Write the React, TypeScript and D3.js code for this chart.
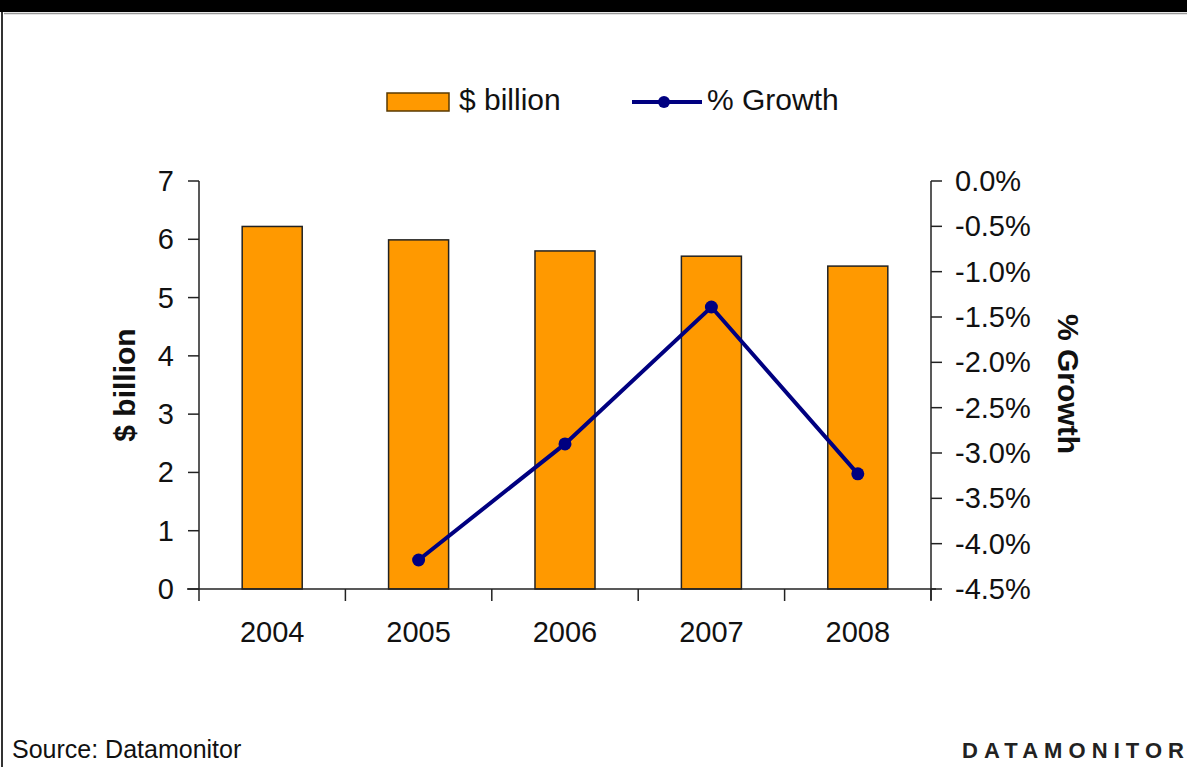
import React from "react";
import * as d3 from "d3";

const years = ["2004", "2005", "2006", "2007", "2008"];
const billions = [6.22, 5.99, 5.8, 5.71, 5.54];
const growthYears = ["2005", "2006", "2007", "2008"];
const growth = [-4.18, -2.9, -1.39, -3.23];
const leftTicks = [0, 1, 2, 3, 4, 5, 6, 7];
const rightTicks = [0, -0.5, -1, -1.5, -2, -2.5, -3, -3.5, -4, -4.5];

const W = 1187;
const H = 767;
const x0 = 199;
const x1 = 931;
const yTop = 181;
const yBot = 589;
const FONT = "'Liberation Sans', Arial, sans-serif";

const fmtPct = (t: number) => d3.format(".1f")(t).replace("\u2212", "-") + "%";

export default function App() {
  const x = d3.scaleBand<string>().domain(years).range([x0, x1]).paddingInner(0.59).paddingOuter(0.295);
  const xc = (y: string) => (x(y) as number) + x.bandwidth() / 2;
  const yL = d3.scaleLinear().domain([0, 7]).range([yBot, yTop]);
  const yR = d3.scaleLinear().domain([-4.5, 0]).range([yBot, yTop]);
  const line = d3
    .line<number>()
    .x((_, i) => xc(growthYears[i]))
    .y((d) => yR(d));
  const step = (x1 - x0) / years.length;
  const boundaries = d3.range(years.length + 1).map((i) => x0 + i * step);
  const axisColor = "#222";
  const tickFs = 29;
  return (
    <svg width={W} height={H} style={{ position: "absolute", left: 0, top: 0, background: "#fff" }} fontFamily={FONT}>
      <rect x={0} y={0} width={W} height={12} fill="#000" />
      <line x1={4} x2={W} y1={13.5} y2={13.5} stroke="#999" strokeWidth={1.5} />
      <line x1={2} x2={2} y1={12} y2={H} stroke="#333" strokeWidth={2} />

      {/* legend */}
      <rect x={387} y={93} width={62} height={18} fill="#FF9900" stroke="#5a3a00" strokeWidth={1.5} />
      <text x={459} y={110} fontSize={30} fill="#111">$ billion</text>
      <line x1={632} x2={702} y1={102} y2={102} stroke="#000080" strokeWidth={4} />
      <circle cx={664} cy={102} r={6} fill="#000080" />
      <text x={707} y={110} fontSize={30} fill="#111">% Growth</text>

      {/* bars */}
      {years.map((yr, i) => (
        <rect
          key={yr}
          x={x(yr)}
          y={yL(billions[i])}
          width={x.bandwidth()}
          height={yBot - yL(billions[i])}
          fill="#FF9900"
          stroke="#222"
          strokeWidth={1.5}
        />
      ))}

      {/* left axis */}
      <line x1={x0} x2={x0} y1={yTop} y2={yBot} stroke={axisColor} strokeWidth={1.5} />
      {leftTicks.map((t) => (
        <g key={t}>
          <line x1={x0 - 11} x2={x0} y1={yL(t)} y2={yL(t)} stroke={axisColor} strokeWidth={1.5} />
          <text x={174} y={yL(t) + 10} fontSize={tickFs} textAnchor="end" fill="#111">{t}</text>
        </g>
      ))}

      {/* right axis */}
      <line x1={x1} x2={x1} y1={yTop} y2={yBot + 11} stroke={axisColor} strokeWidth={1.5} />
      {rightTicks.map((t) => (
        <g key={t}>
          <line x1={x1} x2={x1 + 11} y1={yR(t)} y2={yR(t)} stroke={axisColor} strokeWidth={1.5} />
          <text x={955} y={yR(t) + 10} fontSize={tickFs} fill="#111">{fmtPct(t)}</text>
        </g>
      ))}

      {/* x axis */}
      <line x1={x0 - 12} x2={x1 + 5} y1={yBot} y2={yBot} stroke={axisColor} strokeWidth={1.5} />
      {boundaries.map((b, i) => (
        <line key={i} x1={b} x2={b} y1={yBot} y2={yBot + 12} stroke={axisColor} strokeWidth={1.5} />
      ))}
      {years.map((yr) => (
        <text key={yr} x={xc(yr)} y={642} fontSize={tickFs} textAnchor="middle" fill="#111">{yr}</text>
      ))}

      {/* growth line */}
      <path d={line(growth) || ""} fill="none" stroke="#000080" strokeWidth={4} />
      {growth.map((g, i) => (
        <circle key={i} cx={xc(growthYears[i])} cy={yR(g)} r={6.5} fill="#000080" />
      ))}

      {/* axis titles */}
      <text transform={`translate(135,${385}) rotate(-90)`} fontSize={30} fontWeight="bold" textAnchor="middle" fill="#111">$ billion</text>
      <text transform={`translate(1058,${384}) rotate(90)`} fontSize={30} fontWeight="bold" textAnchor="middle" fill="#111">% Growth</text>

      {/* footer */}
      <text x={12} y={758} fontSize={25} fill="#111">Source: Datamonitor</text>
      <text x={962} y={758} fontSize={22} fontWeight="bold" fill="#222" textLength={222} lengthAdjust="spacing">DATAMONITOR</text>
    </svg>
  );
}
